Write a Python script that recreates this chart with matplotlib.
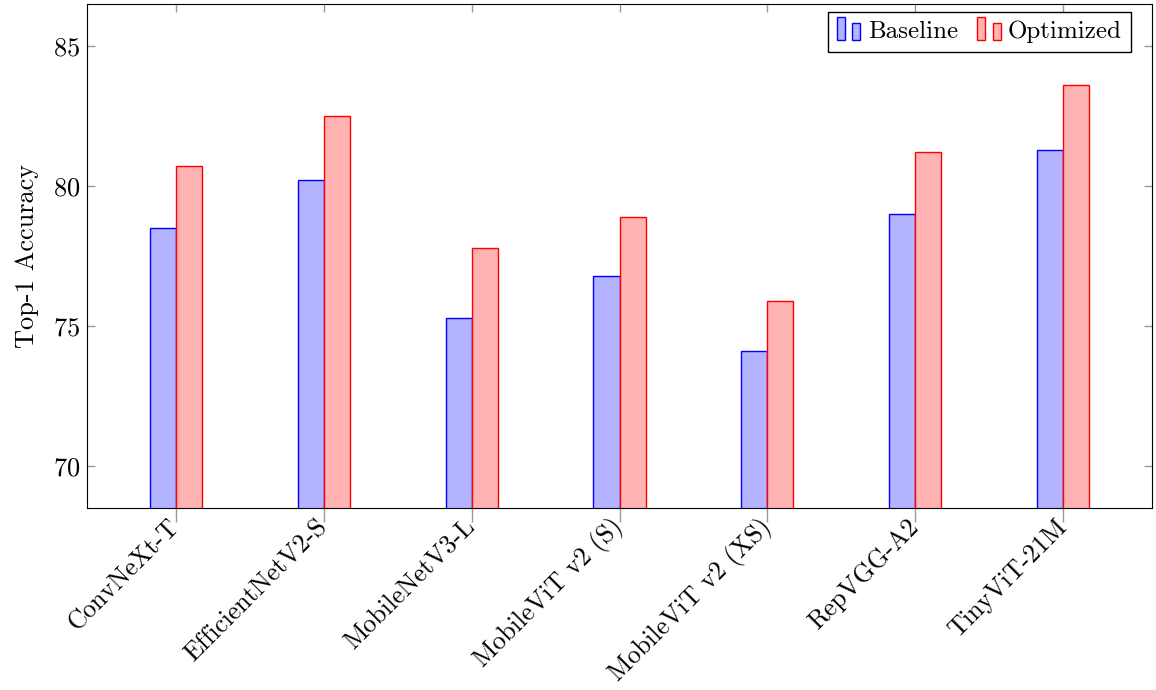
import numpy as np
import matplotlib
matplotlib.use('Agg')
import matplotlib.pyplot as plt
from matplotlib.patches import Rectangle
from matplotlib.legend_handler import HandlerBase

models = ['ConvNeXt-T', 'EfficientNetV2-S', 'MobileNetV3-L', 'MobileViT v2 (S)',
          'MobileViT v2 (XS)', 'RepVGG-A2', 'TinyViT-21M']
baseline = [78.5, 80.2, 75.3, 76.8, 74.1, 79.0, 81.3]
optimized = [80.7, 82.5, 77.8, 78.9, 75.9, 81.2, 83.6]
yticks = [70, 75, 80, 85]

plt.rcParams['font.family'] = 'serif'
plt.rcParams['font.serif'] = ['cmr10', 'DejaVu Serif']
plt.rcParams['mathtext.fontset'] = 'cm'
plt.rcParams['axes.formatter.use_mathtext'] = True


class BarHandler(HandlerBase):
    # pgfplots style legend image: two little bars
    def create_artists(self, legend, orig, xd, yd, width, height, fontsize, trans):
        fc = orig.get_facecolor()
        ec = orig.get_edgecolor()
        w = width / 3.0
        r1 = Rectangle((-xd, -yd - 0.1 * height), w, height * 1.3,
                       facecolor=fc, edgecolor=ec, lw=1, transform=trans)
        r2 = Rectangle((-xd + 2 * w, -yd - 0.1 * height), w, height * 1.0,
                       facecolor=fc, edgecolor=ec, lw=1, transform=trans)
        return [r1, r2]


fig = plt.figure(figsize=(11.56, 6.9), dpi=100)
ax = fig.add_axes([0.0753, 0.2638, 0.9212, 0.7304])

x = np.arange(len(models))
w = 0.176
b1 = ax.bar(x - w / 2, baseline, w, color='#b3b3ff', edgecolor='blue', linewidth=1,
            label='Baseline')
b2 = ax.bar(x + w / 2, optimized, w, color='#ffb3b3', edgecolor='red', linewidth=1,
            label='Optimized')

ax.set_xlim(-0.6, 6.6)
ax.set_ylim(68.5, 86.5)
ax.set_yticks(yticks)
ax.set_xticks(x)
ax.set_xticklabels(models, rotation=45, ha='right', va='center', rotation_mode='anchor',
                   fontsize=18.5)
ax.tick_params(axis='y', labelsize=19, direction='in', right=True, length=6,
               color='#999999', width=1, pad=5)
ax.tick_params(axis='x', direction='out', top=True, length=10, color='#999999',
               width=1, pad=1)
ax.set_ylabel('Top-1 Accuracy', fontsize=19, labelpad=10)

for s in ax.spines.values():
    s.set_linewidth(0.8)

# top ticks in pgfplots go inward
for t in ax.xaxis.get_major_ticks():
    t.tick2line.set_marker(matplotlib.lines.TICKDOWN)
    t.tick2line.set_markersize(6)

leg = ax.legend(handles=[b1.patches[0], b2.patches[0]], labels=['Baseline', 'Optimized'],
                handler_map={Rectangle: BarHandler()}, loc='upper right',
                ncol=2, fontsize=18, frameon=True, fancybox=False, edgecolor='black',
                framealpha=1, bbox_to_anchor=(0.980, 0.984), borderaxespad=0,
                handlelength=0.95, handletextpad=0.3, columnspacing=0.75,
                borderpad=0.35)
leg.get_frame().set_linewidth(1)

fig.savefig('out.png', dpi=100)
